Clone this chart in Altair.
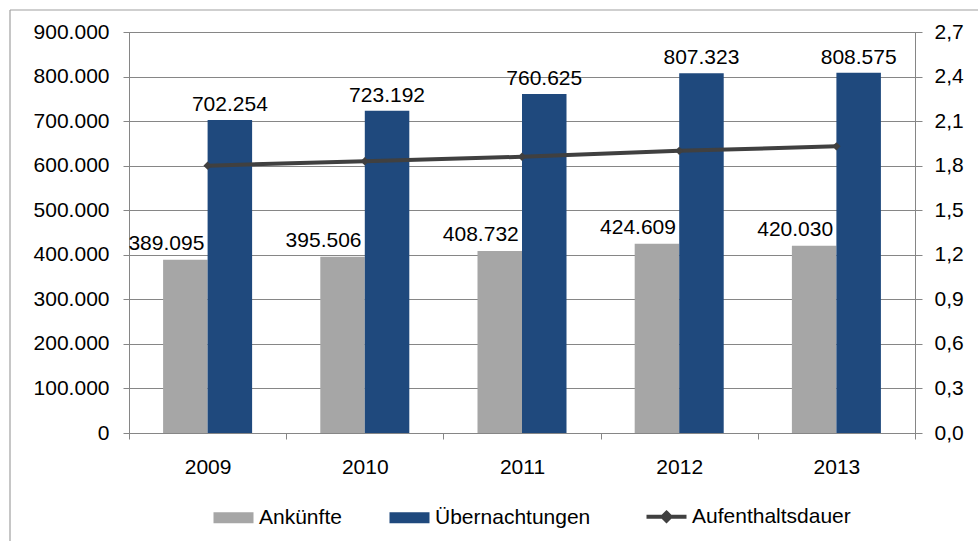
import altair as alt
import pandas as pd

# ---- data ----
years = ["2009", "2010", "2011", "2012", "2013"]
ankuenfte = [389095, 395506, 408732, 424609, 420030]
uebernachtungen = [702254, 723192, 760625, 807323, 808575]
aufenthaltsdauer = [1.80, 1.83, 1.86, 1.90, 1.93]

series_names = ["Ankünfte", "Übernachtungen", "Aufenthaltsdauer"]
series_colors = ["#A6A6A6", "#1F497D", "#404040"]

left_ticks = [0, 100000, 200000, 300000, 400000, 500000, 600000, 700000, 800000, 900000]
right_ticks = [0, 0.3, 0.6, 0.9, 1.2, 1.5, 1.8, 2.1, 2.4, 2.7]

rows = []
for i, yr in enumerate(years):
    rows.append({"Jahr": yr, "Serie": series_names[0], "Wert": ankuenfte[i]})
    rows.append({"Jahr": yr, "Serie": series_names[1], "Wert": uebernachtungen[i]})
bars_df = pd.DataFrame(rows)
bars_df["Label"] = bars_df["Wert"].map(lambda v: f"{v:,}".replace(",", "."))
line_df = pd.DataFrame({"Jahr": years, "Dauer": aufenthaltsdauer,
                        "Serie": [series_names[2]] * len(years)})

FONT = "Liberation Sans"
FS = 21
GRID = "#868686"
W, H = 786, 401

x_enc = alt.X(
    "Jahr:N", sort=years,
    scale=alt.Scale(paddingInner=0, paddingOuter=0),
    axis=alt.Axis(title=None, labelAngle=0, tickBand="extent", tickSize=6,
                  tickColor=GRID, domainColor=GRID, labelFont=FONT,
                  labelFontSize=FS, labelColor="#000000", labelPadding=17,
                  grid=False),
)
xoff_enc = alt.XOffset(
    "Serie:N",
    scale=alt.Scale(domain=series_names[:2], paddingInner=0, paddingOuter=0.766),
)
y_left = alt.Y(
    "Wert:Q",
    scale=alt.Scale(domain=[0, 900000], nice=False),
    axis=alt.Axis(title=None, values=left_ticks,
                  labelExpr="datum.value == 0 ? '0' : format(datum.value / 1000, 'd') + '.000'",
                  grid=True, gridColor=GRID, gridWidth=1, tickSize=6,
                  tickColor=GRID, domainColor=GRID, labelFont=FONT,
                  labelFontSize=FS, labelColor="#000000", labelPadding=14),
)

IS_LINE = "datum.value === 'Aufenthaltsdauer'"
color_scale = alt.Scale(domain=series_names, range=series_colors)
legend = alt.Legend(
    orient="none", legendX=94, legendY=474, direction="horizontal", title=None,
    symbolSize=1600,
    symbolType=alt.ExprRef(IS_LINE + " ? 'M-1,0H1M0,-0.2L0.2,0L0,0.2L-0.2,0Z' : 'M-1,-0.28H1V0.28H-1Z'"),
    symbolStrokeWidth=alt.ExprRef(IS_LINE + " ? 4 : 0"),
    symbolOpacity=1,
    labelFont=FONT, labelFontSize=FS, labelColor="#000000", labelOffset=15,
    labelLimit=400, columnPadding=47,
)
color_enc = alt.Color("Serie:N", scale=color_scale, legend=legend)

base = alt.Chart(bars_df)
bars = base.mark_bar().encode(
    x=x_enc, xOffset=xoff_enc, y=y_left, color=color_enc,
)
text_gray = base.transform_filter(alt.datum.Serie == series_names[0]).mark_text(
    align="right", baseline="alphabetic", dx=19, dy=-10, font=FONT, fontSize=FS, color="#000000"
).encode(x=x_enc, xOffset=xoff_enc, y=y_left, text="Label:N")
text_blue = base.transform_filter(alt.datum.Serie == series_names[1]).mark_text(
    align="center", baseline="alphabetic", dy=-9, font=FONT, fontSize=FS, color="#000000"
).encode(x=x_enc, xOffset=xoff_enc, y=y_left, text="Label:N")

# outer frame lines of the reference picture
frame_df = pd.DataFrame({"f": [0]})
frame_top = alt.Chart(frame_df).mark_rule(color="#A0A0A0", strokeWidth=1.2).encode(
    x=alt.value(-119), x2=alt.value(W + 70), y=alt.value(-22))
frame_left = alt.Chart(frame_df).mark_rule(color="#A0A0A0", strokeWidth=1.2).encode(
    x=alt.value(-119), y=alt.value(-22), y2=alt.value(H + 120))

left_layer = alt.layer(frame_top, frame_left, bars, text_gray, text_blue)

line = alt.Chart(line_df).mark_line(
    strokeWidth=4,
    point=alt.OverlayMarkDef(shape="diamond", size=70, filled=True, color="#404040"),
).encode(
    x=x_enc,
    y=alt.Y("Dauer:Q", scale=alt.Scale(domain=[0, 2.7], nice=False),
            axis=alt.Axis(title=None, orient="right", values=right_ticks,
                          labelExpr="replace(format(datum.value, '.1f'), '.', ',')",
                          grid=False, tickSize=7, tickColor=GRID, domainColor=GRID,
                          labelFont=FONT, labelFontSize=FS, labelColor="#000000",
                          labelPadding=12)),
    color=color_enc,
)

chart = alt.layer(left_layer, line).resolve_scale(y="independent").properties(
    width=W, height=H,
    autosize=alt.AutoSizeParams(type="none"),
    padding={"left": 129, "top": 32, "right": 978 - 129 - W, "bottom": 541 - 32 - H},
    background="#FFFFFF",
).configure_view(stroke=GRID)

chart.save("out.html", embed_options={"renderer": "svg", "actions": False})
